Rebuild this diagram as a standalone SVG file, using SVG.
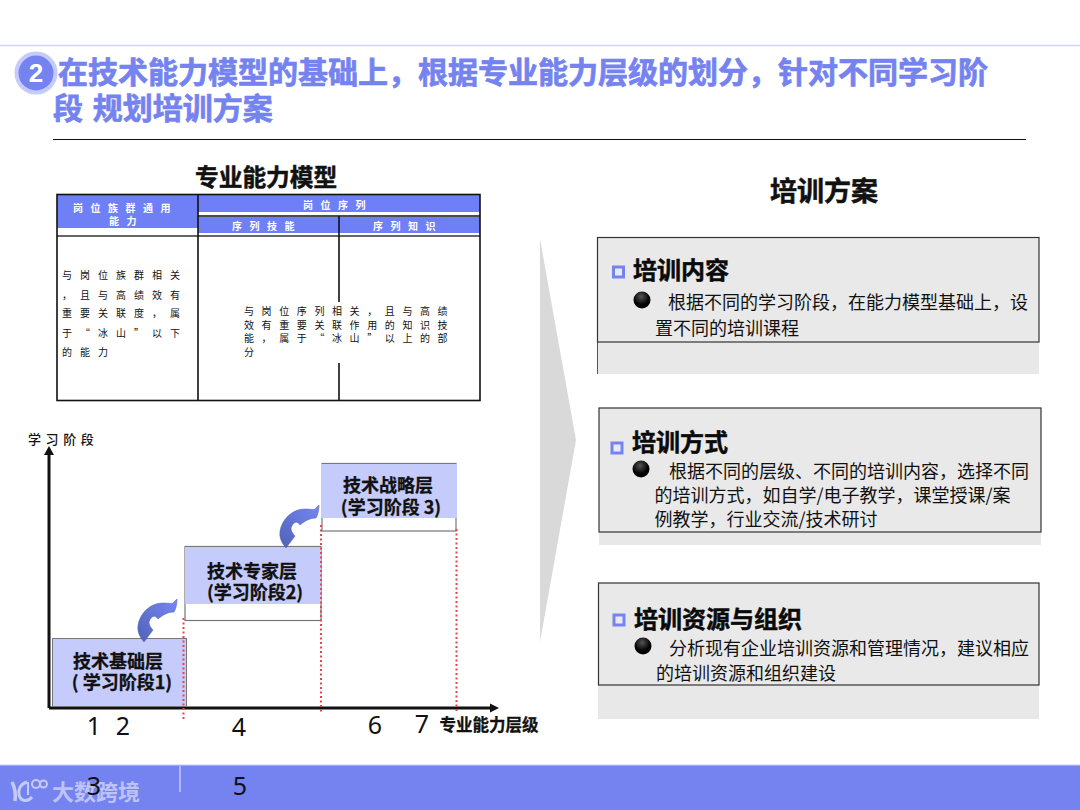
<svg xmlns="http://www.w3.org/2000/svg" width="1080" height="810" viewBox="0 0 1080 810">
<style>
text{font-family:"Noto Sans CJK SC","Liberation Sans",sans-serif}
.title{font-size:30px;font-weight:700;fill:#7583f0;stroke:#7583f0;stroke-width:.7px}
.th{font-size:10px;font-weight:700;fill:#fff;letter-spacing:7.5px}
.td{font-size:10px;fill:#111;letter-spacing:7.6px}
.tdl{letter-spacing:8px}
.lab{font-size:18px;font-weight:700;fill:#111;stroke:#111;stroke-width:.3px;text-anchor:middle}
.num{font-family:"Noto Sans","Liberation Sans",sans-serif;font-size:25px;fill:#111;text-anchor:middle}
.h{font-size:24px;font-weight:700;fill:#0a0a0a;stroke:#0a0a0a;stroke-width:.5px}
.b{font-size:18px;fill:#111}
.box{fill:#e9e9e9;stroke:#333;stroke-width:1.2}
.shade{fill:#e8e8e8}
.sq{fill:#e9e9f8;stroke:#7583f0;stroke-width:3}
.red{fill:none;stroke:#e8434f;stroke-width:2;stroke-dasharray:2 2.5}
.tier{fill:#fff;stroke:#777;stroke-width:1.2}
.fill{fill:#c5cbfb}
.tl{stroke:#111;stroke-width:1.6;fill:none}
</style>
<defs>
<linearGradient id="ag" x1="0" y1="1" x2="1" y2="0"><stop offset="0" stop-color="#5062b5"/><stop offset="1" stop-color="#7688f5"/></linearGradient>
<radialGradient id="bg" cx="0.45" cy="0.3" r="0.8"><stop offset="0" stop-color="#555"/><stop offset="0.6" stop-color="#000"/></radialGradient>
<path id="curl" d="M144,642C139,636 136,630 139,621C143,610 152,603 163,603C168,603 172,604 173,603L177,599C177,604 176,609 174,612C168,612 163,615 158,619C155,614 151,616 149,622C149,625 151,628 153,630Z" fill="url(#ag)" stroke="#5062b5" stroke-width="0.5"/>
</defs>

<g id="header">
<line x1="0" y1="45.5" x2="1080" y2="45.5" stroke="#cfd3fb" stroke-width="1.5"/>
<circle cx="36" cy="73" r="19.5" fill="#7583f0" stroke="#c5cbfb" stroke-width="4"/>
<text x="36" y="82" text-anchor="middle" style="font-family:'Liberation Sans',sans-serif;font-size:26px;font-weight:700;fill:#fff">2</text>
<text class="title" x="58" y="83">在技术能力模型的基础上，根据专业能力层级的划分，针对不同学习阶</text>
<text class="title" x="53" y="119" style="word-spacing:3px">段 规划培训方案</text>
<line x1="53" y1="139.5" x2="1026" y2="139.5" stroke="#111" stroke-width="1.2"/>
</g>

<g id="model-table">
<text x="195" y="186" style="font-size:23.7px;font-weight:700;fill:#111;stroke:#111;stroke-width:.5px">专业能力模型</text>
<rect x="57" y="195" width="141" height="33" fill="#6f80f7"/>
<rect x="198" y="195" width="282" height="17" fill="#6f80f7"/>
<rect x="198" y="217" width="282" height="16" fill="#6f80f7"/>
<line x1="198" y1="216" x2="480" y2="216" class="tl"/>
<line x1="57" y1="236" x2="480" y2="236" stroke="#666" stroke-width="2"/>
<rect x="57" y="194.500" width="423" height="206" class="tl"/>
<line x1="198" y1="194" x2="198" y2="401" class="tl"/>
<line x1="339" y1="216" x2="339" y2="401" class="tl"/>
<rect x="240" y="302" width="215" height="61" fill="#fff"/>
<text class="th" x="73" y="212">岗位族群通用</text>
<text class="th" x="109" y="225">能力</text>
<text class="th" x="303" y="209">岗位序列</text>
<text class="th" x="232" y="230">序列技能</text>
<text class="th" x="373" y="230">序列知识</text>
<text class="td tdl" x="62" y="279">与岗位族群相关</text>
<text class="td tdl" x="62" y="299">，且与高绩效有</text>
<text class="td tdl" x="62" y="317">重要关联度，属</text>
<text class="td tdl" x="62" y="337">于“冰山”以下</text>
<text class="td tdl" x="62" y="356">的能力</text>
<text class="td" x="244" y="315">与岗位序列相关，且与高绩</text>
<text class="td" x="244" y="329">效有重要关联作用的知识技</text>
<text class="td" x="244" y="342">能，属于“冰山”以上的部</text>
<text class="td" x="244" y="356">分</text>
</g>

<g id="connectors">
<line x1="49" y1="708" x2="49" y2="452" stroke="#111" stroke-width="3"/>
<path d="M49,446L54,455H44Z" fill="#111"/>
<line x1="49" y1="708" x2="492" y2="708" stroke="#111" stroke-width="3"/>
<path d="M499,708L490,703.500V712.500Z" fill="#111"/>
</g>

<g id="tier-1">
<rect class="fill" x="52.500" y="638.500" width="134" height="68" stroke="#777" stroke-width="1"/>
<text class="lab" x="118" y="668">技术基础层</text>
<text class="lab" x="122" y="689">( 学习阶段1)</text>
</g>
<g id="tier-2">
<rect class="tier" x="185" y="546.500" width="136" height="74"/>
<rect class="fill" x="185" y="547" width="136" height="57"/>
<text class="lab" x="252" y="578">技术专家层</text>
<text class="lab" x="255" y="599">(学习阶段2)</text>
</g>
<g id="tier-3">
<rect class="tier" x="322" y="463.500" width="134" height="67.500"/>
<rect class="fill" x="321" y="464" width="136" height="54"/>
<text class="lab" x="388" y="492">技术战略层</text>
<text class="lab" x="391" y="514">(学习阶段 3)</text>
</g>
<g id="steps">
<use href="#curl"/>
<use href="#curl" x="142" y="-94"/>
</g>
<g id="guides">
<line class="red" x1="183.500" y1="618" x2="183.500" y2="720"/>
<line class="red" x1="321" y1="525" x2="321" y2="712"/>
<line class="red" x1="456.500" y1="529" x2="456.500" y2="712"/>
</g>
<g id="axis-labels">
<text x="28" y="444" style="font-size:13px;font-weight:500;fill:#111;letter-spacing:4.6px">学习阶段</text>
<text x="439.500" y="731" style="font-size:16.500px;font-weight:700;fill:#111;stroke:#111;stroke-width:.3px">专业能力层级</text>
<text class="num" x="94" y="735">1</text>
<text class="num" x="123" y="735">2</text>
<text class="num" x="239" y="736">4</text>
<text class="num" x="375" y="734">6</text>
<text class="num" x="422" y="733">7</text>
</g>

<polygon id="chevron" points="540,239 576,440 540,642" fill="#d9d9d9"/>

<g id="plan">
<text x="770" y="201" style="font-size:27px;font-weight:700;fill:#111;stroke:#111;stroke-width:.5px">培训方案</text>
</g>
<g id="card-content">
<rect class="shade" x="597" y="342" width="442" height="32"/>
<line x1="597.500" y1="342" x2="597.500" y2="374" stroke="#555"/>
<rect class="box" x="597.500" y="237.500" width="441.500" height="104.500"/>
<rect class="sq" x="613.500" y="267" width="10" height="10"/>
<text class="h" x="633" y="279">培训内容</text>
<circle cx="642" cy="300" r="8.500" fill="url(#bg)"/>
<text class="b" x="668" y="309">根据不同的学习阶段，在能力模型基础上，设</text>
<text class="b" x="655" y="335">置不同的培训课程</text>
</g>
<g id="card-method">
<rect class="shade" x="599" y="532" width="442" height="13"/>
<rect class="box" x="599" y="408" width="442" height="124"/>
<rect class="sq" x="612" y="443" width="10" height="10"/>
<text class="h" x="632" y="451">培训方式</text>
<circle cx="641" cy="469" r="8.500" fill="url(#bg)"/>
<text class="b" x="669" y="478">根据不同的层级、不同的培训内容，选择不同</text>
<text class="b" x="654.500" y="502">的培训方式，如自学/电子教学，课堂授课/案</text>
<text class="b" x="654.500" y="526">例教学，行业交流/技术研讨</text>
</g>
<g id="card-resource">
<rect class="shade" x="598" y="685" width="441" height="34"/>
<rect class="box" x="598.500" y="583" width="440.500" height="102"/>
<rect class="sq" x="614" y="615" width="10" height="10"/>
<text class="h" x="634" y="628">培训资源与组织</text>
<circle cx="643" cy="646" r="8.500" fill="url(#bg)"/>
<text class="b" x="669" y="655">分析现有企业培训资源和管理情况，建议相应</text>
<text class="b" x="656" y="680">的培训资源和组织建设</text>
</g>

<g id="footer">
<rect x="0" y="765" width="1080" height="45" fill="#7583f0"/>
<line x1="0" y1="765" x2="1080" y2="765" stroke="#c5cbfb"/>
<line x1="180" y1="766" x2="180" y2="792" stroke="#d5d9fb" stroke-width="1.200"/>
<g id="logo" fill="none" stroke="#c5cbf8" stroke-width="3">
<path d="M12,782C15,788 16,794 15,801" stroke-width="3.500"/>
<path d="M27,782C20,784 18,790 19,795C21,802 28,802 32,797"/>
<path d="M28,782V795" stroke-width="2"/>
<circle cx="36" cy="784" r="4" stroke-width="2"/>
<circle cx="43.500" cy="784" r="3.500" stroke-width="2"/>
</g>
<text x="52" y="800" style="font-size:22px;font-weight:700;fill:#c5cbf8;opacity:.9">大数跨境</text>
<text class="num" x="94" y="795">3</text>
<text class="num" x="240" y="795">5</text>
</g>
</svg>
